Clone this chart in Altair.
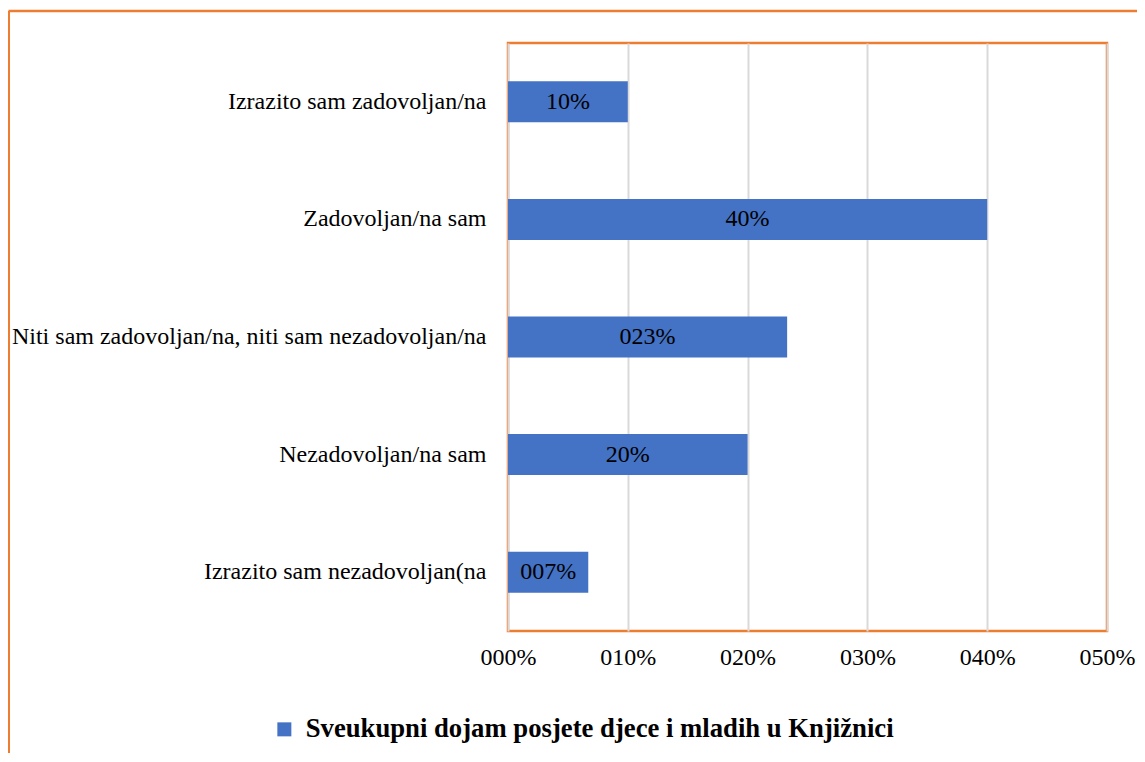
import altair as alt
import pandas as pd

categories = [
    "Izrazito sam zadovoljan/na",
    "Zadovoljan/na sam",
    "Niti sam zadovoljan/na, niti sam nezadovoljan/na",
    "Nezadovoljan/na sam",
    "Izrazito sam nezadovoljan(na",
]
values = [0.10, 0.40, 0.233, 0.20, 0.067]
value_labels = ["10%", "40%", "023%", "20%", "007%"]
tick_values = [0, 0.1, 0.2, 0.3, 0.4, 0.5]
series_name = "Sveukupni dojam posjete djece i mladih u Knjižnici"

df = pd.DataFrame({
    "category": categories,
    "value": values,
    "label": value_labels,
    "series": [series_name] * len(categories),
})

FONT = "Liberation Serif, Times New Roman, serif"
ORANGE = "#ED7D31"
BLUE = "#4472C4"

base = alt.Chart(df)

bars = base.mark_bar(size=41).encode(
    y=alt.Y("category:N", sort=categories,
            axis=alt.Axis(title=None, ticks=False, domain=False, labelFontSize=24,
                          labelFont=FONT, labelColor="black", labelPadding=22,
                          labelLimit=700)),
    x=alt.X("value:Q", scale=alt.Scale(domain=[0, 0.5], nice=False),
            axis=alt.Axis(title=None, values=tick_values, ticks=False, domain=False,
                          labelFontSize=24, labelFont=FONT, labelColor="black",
                          labelPadding=14, labelFlush=False, labelOverlap=False,
                          gridColor="#D9D9D9", gridWidth=2,
                          labelExpr="'0' + format(round(datum.value*100), '02d') + '%'")),
    color=alt.Color("series:N", scale=alt.Scale(range=[BLUE]),
                    legend=alt.Legend(title=None, orient="none", legendX=-237, legendY=673,
                                      padding=0,
                                      labelFont=FONT, labelFontSize=26.7, labelFontWeight="bold",
                                      labelColor="black", symbolType="square", symbolSize=196,
                                      symbolStrokeWidth=0, labelLimit=900, labelOffset=8)),
)

texts = base.mark_text(font=FONT, fontSize=24, color="black", baseline="middle").encode(
    y=alt.Y("category:N", sort=categories),
    x=alt.X("half:Q"),
    text="label:N",
).transform_calculate(half="datum.value / 2")

frame_data = alt.Data(values=[{"k": 1}])
left_rule = alt.Chart(frame_data).mark_rule(color=ORANGE, strokeWidth=3).encode(
    x=alt.value(-499.5), y=alt.value(-32), y2=alt.value(800))
top_rule = alt.Chart(frame_data).mark_rule(color=ORANGE, strokeWidth=2.5).encode(
    x=alt.value(-499.5), x2=alt.value(800), y=alt.value(-32))

chart = alt.layer(bars, texts, left_rule, top_rule).properties(
    width=599, height=588,
    autosize=alt.AutoSizeParams(type="none"),
    padding={"left": 500, "top": 35, "right": 30, "bottom": 122},
).configure(font=FONT, view=alt.ViewConfig(stroke=ORANGE, strokeWidth=2.5))

chart.save("out.html", embed_options={"renderer": "svg", "actions": False})
